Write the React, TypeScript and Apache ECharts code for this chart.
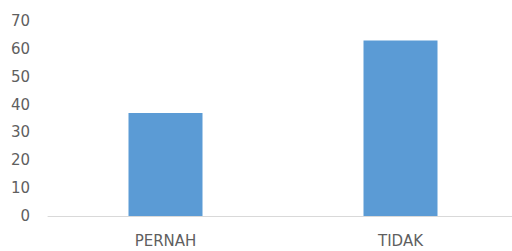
import React, { useEffect, useRef } from "react";
import * as echarts from "echarts";

const categories = ["PERNAH", "TIDAK"];
const values = [37, 63];
const yTicks = { min: 0, max: 70, interval: 10 };

export default function App() {
  const ref = useRef<HTMLDivElement>(null);
  useEffect(() => {
    if (!ref.current) return;
    const chart = echarts.init(ref.current, undefined, { renderer: "svg" });
    chart.setOption({
      animation: false,
      backgroundColor: "#ffffff",
      grid: { left: 48, top: 21, width: 470, height: 195, containLabel: false },
      xAxis: {
        type: "category",
        data: categories,
        axisLine: { show: true, lineStyle: { color: "#d9d9d9", width: 1 } },
        axisTick: { show: false },
        axisLabel: {
          color: "#5f5f5f",
          fontSize: 15,
          fontFamily: "DejaVu Sans",
          margin: 17,
        },
      },
      yAxis: {
        type: "value",
        min: yTicks.min,
        max: yTicks.max,
        interval: yTicks.interval,
        axisLine: { show: false },
        axisTick: { show: false },
        splitLine: { show: false },
        axisLabel: {
          color: "#5f5f5f",
          fontSize: 15,
          fontFamily: "DejaVu Sans",
          margin: 18,
        },
      },
      series: [
        {
          type: "bar",
          data: values,
          barWidth: 74,
          itemStyle: { color: "#5b9bd5" },
        },
      ],
    });
    return () => chart.dispose();
  }, []);
  return (
    <div style={{ position: "fixed", left: 0, top: 0, width: 512, height: 251, overflow: "hidden" }}>
      <div ref={ref} style={{ width: 530, height: 251 }} />
    </div>
  );
}
